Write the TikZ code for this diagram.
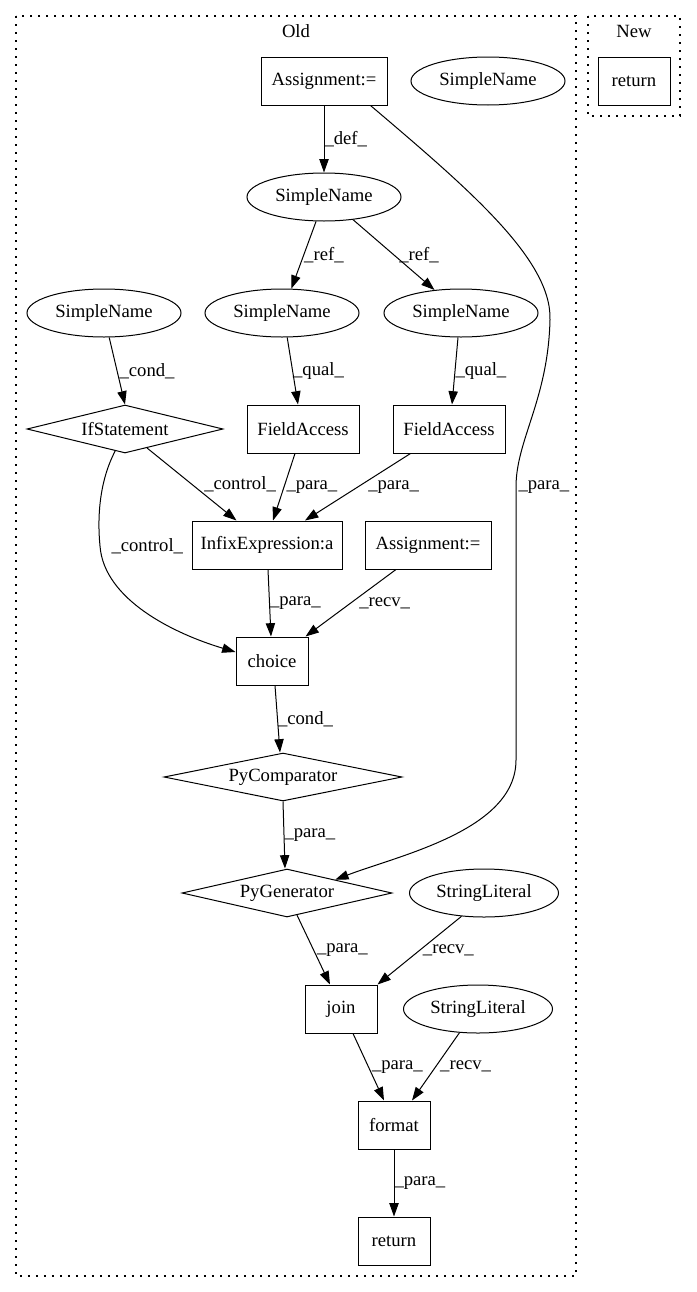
\documentclass[tikz,border=0pt]{standalone}
\usepackage{fontspec}
\setmainfont{Liberation Serif}
\usetikzlibrary{arrows.meta,shapes.geometric,calc}
\def\px{0.75pt}
\tikzset{
  every node/.style={font=\fontsize{14pt}{16pt}\selectfont},
  gbox/.style={draw, rectangle, line width=0.75pt, minimum height=48*\px, inner sep=0pt},
  gell/.style={draw, ellipse, line width=0.75pt, minimum height=48*\px, inner sep=0pt},
  gdia/.style={draw, diamond, line width=0.75pt, minimum height=48*\px, inner sep=0pt, aspect=4},
  lbl/.style={inner sep=0pt},
  conn/.style={line width=0.75pt, -{Triangle[length=10pt,width=7pt]}},
  cluster/.style={draw, line width=0.8pt, dash pattern=on 1.2pt off 4.8pt},
}
\begin{document}
\begin{tikzpicture}[x=0.75pt, y=-0.75pt]
\useasboundingbox (0,0) rectangle (696,1292);
% clusters
\draw[cluster] (16,16) rectangle (576,1276);
\node (oldlbl) at (296,31) {Old};
\draw[cluster] (588,16) rectangle (680,116);
\node (newlbl) at (634,31) {New};
% nodes
\node[gbox, minimum width=126*\px] (a1) at (324,81) {Assignment:=};
\node[gell, minimum width=154*\px] (snt) at (488,81) {SimpleName};
\node[gell, minimum width=154*\px] (sn0) at (324,197) {SimpleName};
\node[gell, minimum width=154*\px] (sn1) at (104,313) {SimpleName};
\node[gell, minimum width=154*\px] (sn2) at (282,313) {SimpleName};
\node[gell, minimum width=154*\px] (sn3) at (461,313) {SimpleName};
\node[gdia, minimum width=196*\px] (ifs) at (125,429) {IfStatement};
\node[gbox, minimum width=112*\px] (fa1) at (303,429) {FieldAccess};
\node[gbox, minimum width=112*\px] (fa2) at (449,429) {FieldAccess};
\node[gbox, minimum width=150*\px] (inf) at (267,545) {InfixExpression:a};
\node[gbox, minimum width=126*\px] (a2) at (428,545) {Assignment:=};
\node[gbox, minimum width=72*\px] (cho) at (272,661) {choice};
\node[gdia, minimum width=238*\px] (pyc) at (283,777) {PyComparator};
\node[gdia, minimum width=210*\px] (pyg) at (287,893) {PyGenerator};
\node[gell, minimum width=149*\px] (sl1) at (484,893) {StringLiteral};
\node[gbox, minimum width=72*\px] (join) at (341,1009) {join};
\node[gell, minimum width=149*\px] (sl2) at (478,1009) {StringLiteral};
\node[gbox, minimum width=72*\px] (fmt) at (394,1125) {format};
\node[gbox, minimum width=72*\px] (ret) at (394,1241) {return};
\node[gbox, minimum width=72*\px] (nret) at (634,81) {return};
% edges
\draw[conn] (a1.south) -- node[lbl, anchor=west]{\_def\_} (sn0.north);
\draw[conn] ($(a1.south east)+(-17,0)$) .. controls (470,190) and (552,260) .. (550,320)
   .. controls (548,400) and (516,440) .. (516,487)
   node[lbl, anchor=west, xshift=2*\px]{\_para\_}
   -- (516,760) .. controls (516,830) and (400,855) .. ($(pyg.north)!0.457!(pyg.east)$);
\draw[conn] (sn0.-108) -- node[lbl, anchor=west]{\_ref\_} (sn2.69);
\draw[conn] (sn0.-38) -- node[lbl, anchor=west, xshift=5*\px]{\_ref\_} (sn3.139);
\draw[conn] (sn1.-78) -- node[lbl, anchor=west, xshift=2*\px]{\_cond\_} (ifs.north);
\draw[conn] (sn2.-78) -- node[lbl, anchor=west]{\_qual\_} ($(fa1.north)+(-5,0)$);
\draw[conn] (sn3.-97) -- node[lbl, anchor=west]{\_qual\_} ($(fa2.north)+(3,0)$);
\draw[conn] ($(ifs.south)!0.224!(ifs.east)$) -- node[lbl, anchor=west, xshift=12*\px]{\_control\_} ($(inf.north west)+(45,0)$);
\draw[conn] ($(fa1.south)+(-8,0)$) -- node[lbl, anchor=west, xshift=2*\px]{\_para\_} ($(inf.north)+(6,0)$);
\draw[conn] ($(fa2.south west)+(18,0)$) -- node[lbl, anchor=west, xshift=10*\px]{\_para\_} ($(inf.north)+(38,0)$);
\draw[conn] ($(ifs.south)!0.10!(ifs.west)$) .. controls (100,480) and (97,515) .. (100,546)
   node[lbl, anchor=west, xshift=11*\px]{\_control\_}
   .. controls (104,600) and (175,634) .. ($(cho.west)+(0,-9)$);
\draw[conn] ($(inf.south)+(1,0)$) -- node[lbl, anchor=west]{\_para\_} ($(cho.north)+(-1,0)$);
\draw[conn] ($(a2.south)+(-32,0)$) -- node[lbl, anchor=west, xshift=8*\px]{\_recv\_} ($(cho.north east)+(-3,0)$);
\draw[conn] ($(cho.south)+(3,0)$) -- node[lbl, anchor=west]{\_cond\_} ($(pyc.north)+(-3,0)$);
\draw[conn] (pyc.south) -- node[lbl, anchor=west]{\_para\_} ($(pyg.north)+(-2,0)$);
\draw[conn] ($(pyg.south)!0.095!(pyg.east)$) -- node[lbl, anchor=west, xshift=3*\px]{\_para\_} ($(join.north)+(-11,0)$);
\draw[conn] (sl1.-134) -- node[lbl, anchor=west, xshift=3*\px]{\_recv\_} (join.north east);
\draw[conn] ($(join.south)+(12,0)$) -- node[lbl, anchor=west, xshift=3*\px]{\_para\_} ($(fmt.north)+(-10,0)$);
\draw[conn] (sl2.-128) -- node[lbl, anchor=west, xshift=4*\px]{\_recv\_} ($(fmt.north)+(18,0)$);
\draw[conn] (fmt.south) -- node[lbl, anchor=west]{\_para\_} (ret.north);
\end{tikzpicture}
\end{document}
